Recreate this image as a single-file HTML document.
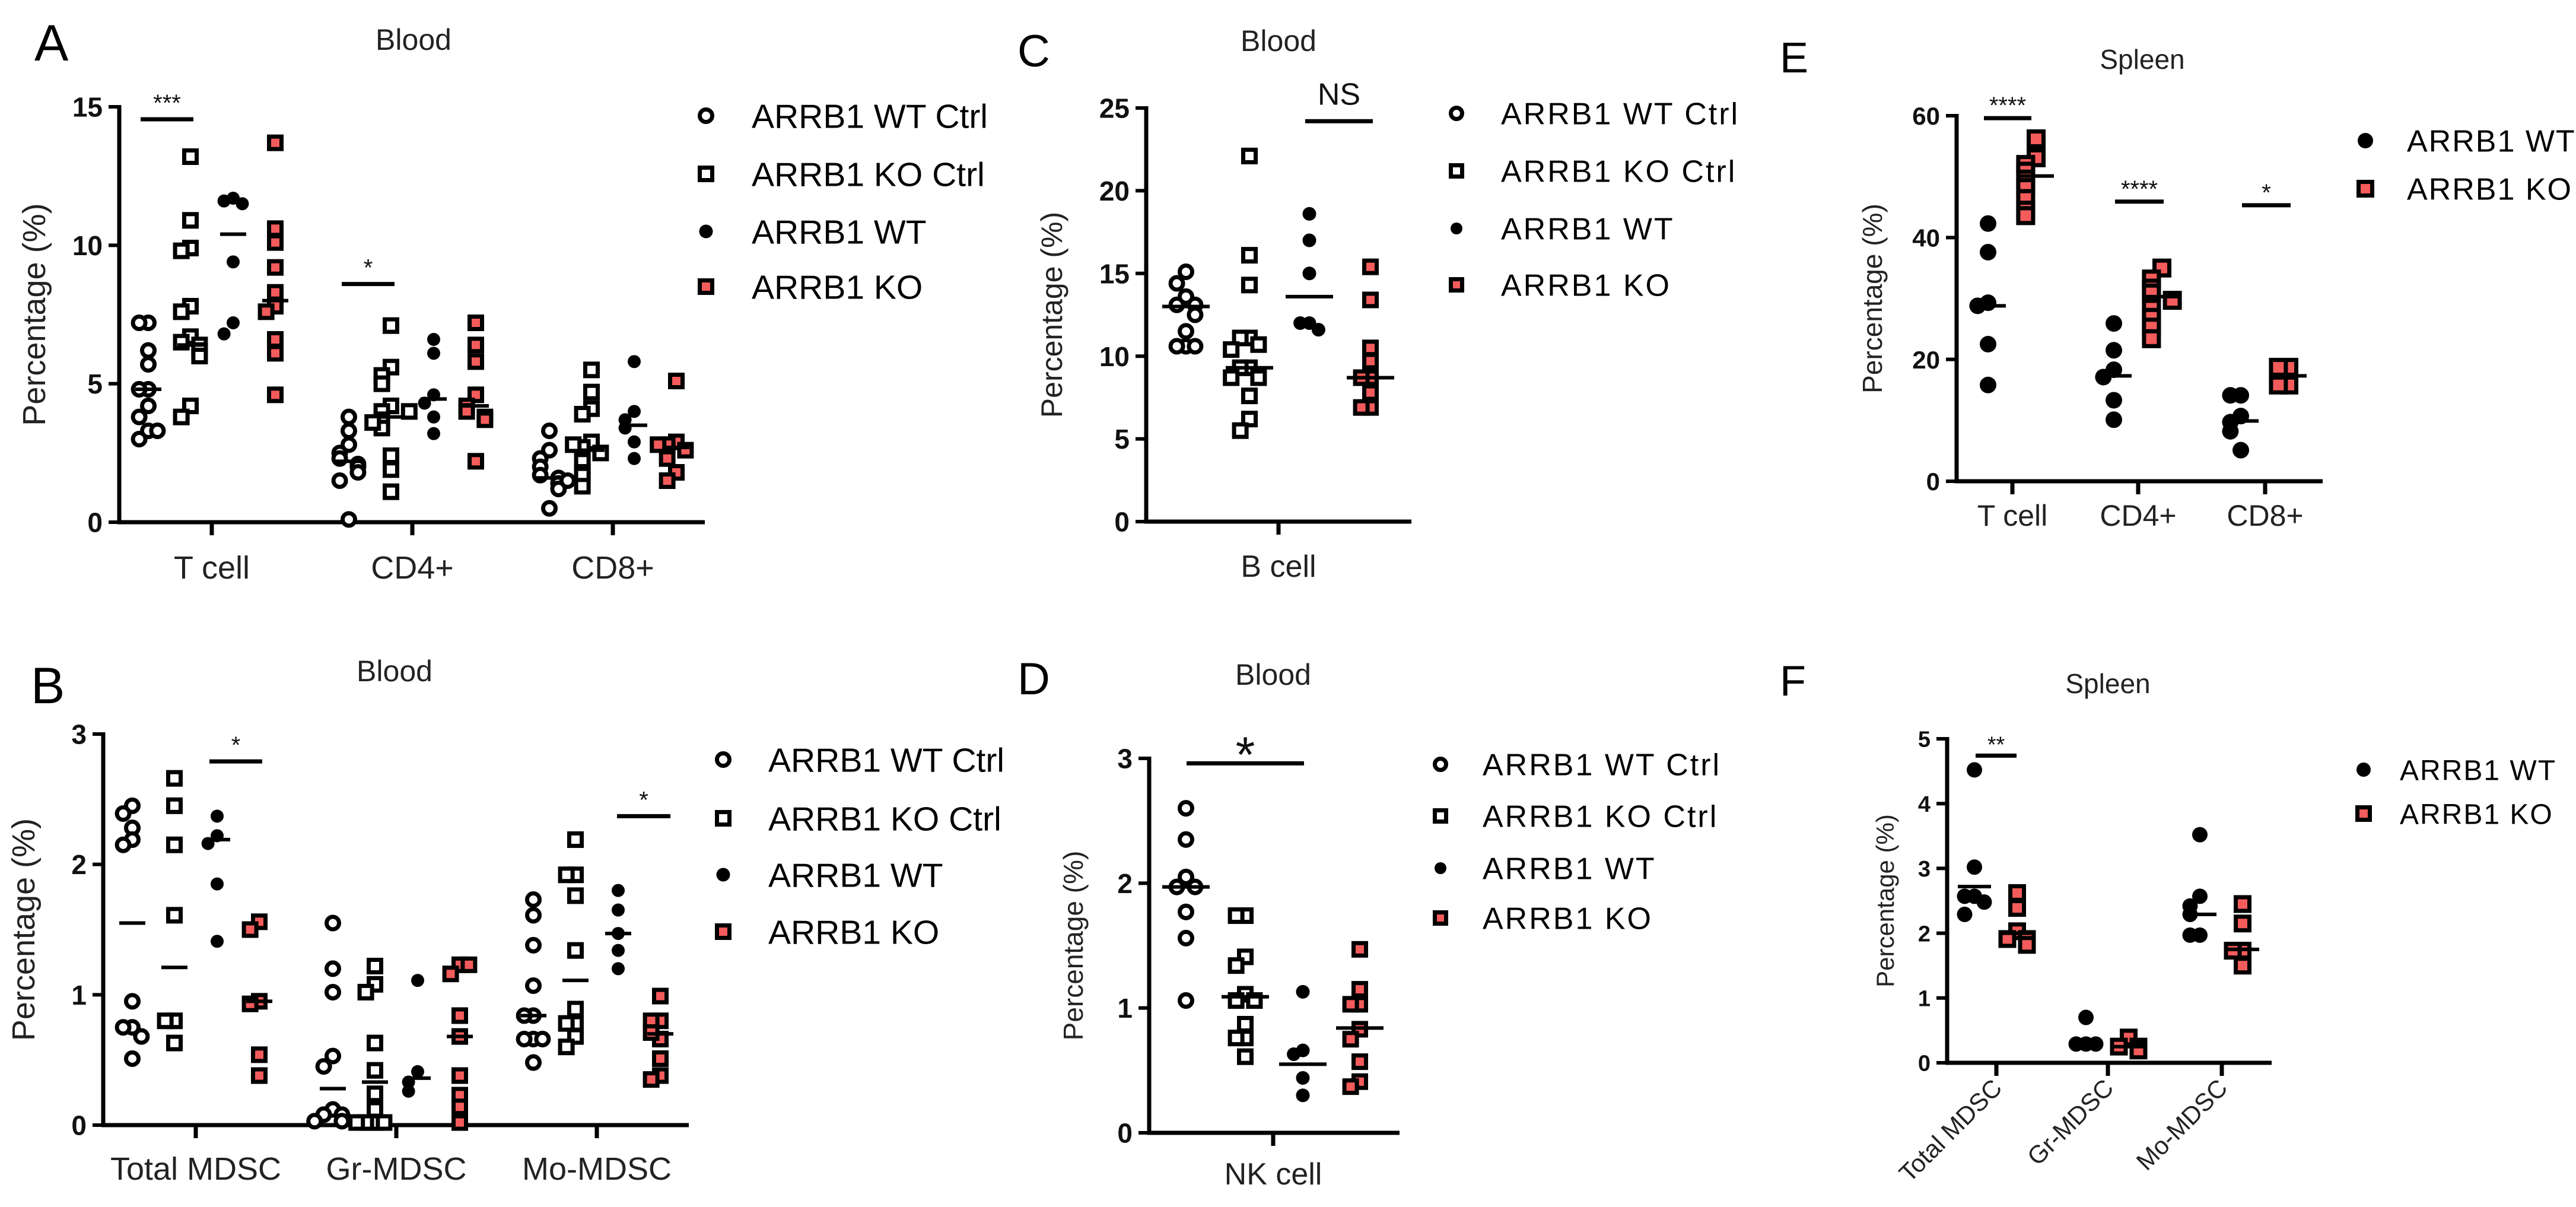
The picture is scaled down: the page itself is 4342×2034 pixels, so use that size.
<!DOCTYPE html>
<html><head><meta charset="utf-8"><style>
html,body{margin:0;padding:0;background:#fff;}
svg{display:block;font-family:"Liberation Sans",Arial,sans-serif;}
</style></head><body>
<svg id="fig" width="4342" height="2034" viewBox="0 0 4342 2034" xmlns="http://www.w3.org/2000/svg">
<rect width="4342" height="2034" fill="#fff"/>
</svg>
<script>
// ===== Panel A data (Blood: T cell / CD4+ / CD8+) =====
const A_categories = ["T cell", "CD4+", "CD8+"];
const A_ticks = [0, 5, 10, 15];
const A_wtCtrl = [[7.2,7.2,6.2,5.7,4.8,4.8,4.2,3.8,3.3,3.0,3.3],[3.8,3.3,2.8,2.5,2.3,2.1,2.0,1.8,1.5,0.1],[3.3,2.6,2.3,2.0,1.7,1.6,1.4,1.2,0.5,1.5]];
const A_koCtrl = [[13.2,10.9,9.9,9.8,7.8,7.6,6.7,6.5,6.4,6.2,6.0,4.2,3.8],[7.1,5.6,5.3,5.0,4.2,4.0,3.7,3.4,3.6,2.4,1.9,1.1,4.0],[5.5,4.7,4.1,3.9,2.9,2.7,2.5,2.2,1.8,1.7,1.3,2.8]];
const A_wt = [[11.7,11.6,11.5,9.4,7.2,6.8],[6.6,6.1,4.6,4.3,3.8,3.2],[5.8,4.0,3.7,3.4,2.9,2.3]];
const A_ko = [[13.7,10.6,10.1,9.2,8.3,7.8,7.6,6.6,6.1,4.6],[7.2,6.4,5.8,4.6,4.2,4.0,3.8,3.7,2.2],[5.1,2.9,2.8,2.6,2.3,1.8,1.5,2.8]];
const A_wtCtrlCenter = [4.8, 2.2, 1.6];
const A_koCtrlCenter = [6.4, 3.8, 2.6];
const A_wtCenter = [10.4, 4.45, 3.5];
const A_koCenter = [8.0, 4.2, 2.7];
const A_sigLabels = ["***", "*"];
const A_sigValues = [14.55, 8.6];

// ===== Panel B data (Blood MDSC) =====
const B_categories = ["Total MDSC", "Gr-MDSC", "Mo-MDSC"];
const B_ticks = [0, 1, 2, 3];
const B_wtCtrl = [[2.45,2.39,2.28,2.19,2.15,0.95,0.75,0.75,0.68,0.51],[1.55,1.2,1.02,0.53,0.45,0.12,0.08,0.08,0.03,0.03],[1.73,1.61,1.38,1.07,0.84,0.84,0.66,0.66,0.48,0.66]];
const B_koCtrl = [[2.66,2.45,2.15,1.61,0.8,0.8,0.63],[1.22,1.08,1.02,0.63,0.42,0.24,0.12,0.02,0.02,0.02,0.02],[2.19,1.92,1.92,1.76,1.34,0.89,0.78,0.78,0.68,0.6]];
const B_wt = [[2.37,2.22,2.16,1.85,1.41],[1.11,0.41,0.33,0.26],[1.8,1.65,1.47,1.34,1.2]];
const B_ko = [[1.56,1.5,0.95,0.93,0.54,0.38],[1.23,1.16,1.23,0.84,0.68,0.38,0.23,0.14,0.02],[0.99,0.8,0.8,0.66,0.71,0.51,0.38,0.35]];
const B_wtCtrlCenter = [1.55, 0.28, 0.84];
const B_koCtrlCenter = [1.21, 0.33, 1.11];
const B_wtCenter = [2.19, 0.36, 1.47];
const B_koCenter = [0.95, 0.68, 0.7];
const B_sigLabels = ["*", "*"];
const B_sigValues = [2.79, 2.37];

// ===== Panel C data (Blood B cell) =====
const C_categories = ["B cell"];
const C_ticks = [0, 5, 10, 15, 20, 25];
const C_wtCtrl = [[15.1,14.4,13.6,13.1,13.1,12.5,11.5,10.6,10.6,10.6]];
const C_koCtrl = [[22.1,16.1,14.3,11.1,11.1,10.7,10.4,9.3,9.3,8.7,8.7,7.6,6.2,5.5]];
const C_wt = [[18.6,17.0,15.0,12.0,12.0,11.6]];
const C_ko = [[15.4,13.4,10.5,9.7,8.7,8.7,7.8,6.9,6.9]];
const C_wtCtrlCenter = [13.0];
const C_koCtrlCenter = [9.3];
const C_wtCenter = [13.6];
const C_koCenter = [8.7];
const C_sigLabels = ["NS"];
const C_sigValues = [24.2];

// ===== Panel D data (Blood NK cell) =====
const D_categories = ["NK cell"];
const D_ticks = [0, 1, 2, 3];
const D_wtCtrl = [[2.6,2.35,2.05,1.97,1.97,1.77,1.56,1.06]];
const D_koCtrl = [[1.74,1.74,1.41,1.34,1.11,1.06,1.06,0.87,0.76,0.76,0.61]];
const D_wt = [[1.13,0.66,0.63,0.44,0.30]];
const D_ko = [[1.47,1.15,1.03,1.03,0.83,0.75,0.57,0.41,0.37]];
const D_wtCtrlCenter = [1.97];
const D_koCtrlCenter = [1.09];
const D_wtCenter = [0.55];
const D_koCenter = [0.84];
const D_sigLabels = ["*"];
const D_sigValues = [2.96];

// ===== Panel E data (Spleen T cells) =====
const E_categories = ["T cell", "CD4+", "CD8+"];
const E_ticks = [0, 20, 40, 60];
const E_wt = [[42.3,37.6,29.3,28.8,22.5,15.8],[25.9,21.5,18.3,17.1,13.3,10.1],[14.1,14.1,10.7,9.7,8.2,5.1]];
const E_ko = [[56.2,53.1,52.0,50.9,49.6,48.2,46.4,44.5,43.6],[35.0,33.2,31.7,30.9,29.7,28.4,26.9,25.3,23.4],[18.7,18.7,15.8,15.8]];
const E_wtCenter = [28.8, 17.3, 9.9];
const E_koCenter = [50.1, 30.3, 17.3];
const E_sigLabels = ["****", "****", "*"];
const E_sigValues = [59.6, 45.9, 45.3];

// ===== Panel F data (Spleen MDSC) =====
const F_categories = ["Total MDSC", "Gr-MDSC", "Mo-MDSC"];
const F_ticks = [0, 1, 2, 3, 4, 5];
const F_wt = [[4.52,3.02,2.57,2.57,2.48,2.29],[0.70,0.29,0.29,0.29],[3.52,2.57,2.42,2.29,1.97,1.97]];
const F_ko = [[2.62,2.39,2.03,1.91,1.91,1.82],[0.39,0.25,0.25,0.19],[2.45,2.15,1.73,1.73,1.50]];
const F_wtCenter = [2.72, 0.30, 2.29];
const F_koCenter = [2.0, 0.25, 1.75];
const F_sigLabels = ["**"];
const F_sigValues = [4.74];

const NS = "http://www.w3.org/2000/svg";
const svg = document.getElementById("fig");
const RED = "#f45b5b";
function mk(tag, attrs, parent){
  const e = document.createElementNS(NS, tag);
  for (const k in attrs) e.setAttribute(k, attrs[k]);
  (parent || svg).appendChild(e);
  return e;
}
function txt(s, attrs, parent){ const e = mk("text", attrs, parent); e.textContent = s; return e; }

function marker(g, shape, cx, cy, sz){
  let e;
  if (shape === "oc") { e = mk("circle", {cx:cx, cy:cy, r:sz/2-3.5, fill:"#fff", stroke:"#000", "stroke-width":7}, g); }
  else if (shape === "os") { e = mk("rect", {x:cx-sz/2+3.5, y:cy-sz/2+3.5, width:sz-7, height:sz-7, fill:"#fff", stroke:"#000", "stroke-width":7}, g); }
  else if (shape === "fc") { e = mk("circle", {cx:cx, cy:cy, r:sz/2, fill:"#000"}, g); }
  else { e = mk("rect", {x:cx-sz/2+3.5, y:cy-sz/2+3.5, width:sz-7, height:sz-7, fill:RED, stroke:"#000", "stroke-width":7}, g); }
  return e;
}

function panel(p){
  const g = mk("g", {});
  
  
  const ys = v => p.yb - v / p.ymax * (p.yb - p.yt);
  const L = txt(p.letter, {x:p.letterX, y:p.letterY, "font-size":p.letterSize, fill:"#000"}, g);
  
  
  const T = txt(p.title, {x:p.titleX, y:p.titleY, "font-size":p.titleSize, "text-anchor":"middle", fill:"#222"}, g);
  
  
  const ya = mk("line", {x1:p.ax, y1:p.yt-3, x2:p.ax, y2:p.yb+3, stroke:"#000", "stroke-width":7}, g);
  
  
  const xa = mk("line", {x1:p.ax-3, y1:p.yb, x2:p.axEnd, y2:p.yb, stroke:"#000", "stroke-width":7}, g);
  
  
  p.ticks.forEach(t => {
    const y = ys(t);
    const tl = mk("line", {x1:p.ax-18, y1:y, x2:p.ax, y2:y, stroke:"#000", "stroke-width":6}, g);
    
    
    const lb = txt(String(t), {x:p.ax-28, y:y+p.tickSize*0.36, "font-size":p.tickSize, "font-weight":"bold", "text-anchor":"end", fill:"#111"}, g);
    
    
  });
  const ym = (p.yt + p.yb) / 2;
  const yt = txt("Percentage (%)", {x:p.ytX, y:ym, "font-size":p.ytSize, "text-anchor":"middle", fill:"#222", transform:"rotate(-90 "+p.ytX+" "+ym+")"}, g);
  
  
  p.cats.forEach((c, i) => {
    const cx = p.catX[i];
    const tk = mk("line", {x1:cx, y1:p.yb, x2:cx, y2:p.yb+22, stroke:"#000", "stroke-width":7}, g);
    
    
    let lb;
    if (p.rotate) {
      const lx = cx + 12, ly = p.yb + 45;
      lb = txt(c, {x:lx, y:ly, "font-size":p.catSize, "text-anchor":"end", fill:"#222", transform:"rotate(-45 "+lx+" "+ly+")"}, g);
    } else {
      lb = txt(c, {x:cx, y:p.catY, "font-size":p.catSize, "text-anchor":"middle", fill:"#222"}, g);
    }
    
    
    p.series.forEach(s => {
      const gx = cx + s.off;
      const vals = s.vals[i];
      const placed = [];
      vals.forEach((v, j) => {
        const y = ys(v);
        const near = placed.filter(q => Math.abs(q - y) < p.msz * 0.7).length;
        placed.push(y);
        const dx = near === 0 ? 0 : (near % 2 ? -1 : 1) * Math.ceil(near / 2) * p.msz * 0.55;
        const m = marker(g, s.shape, gx + dx, y, s.shape === "fc" ? p.dot : p.msz);
        
        
      });
      const cy = ys(s.center[i]);
      const ml = mk("line", {x1:gx-p.cw, y1:cy, x2:gx+p.cw, y2:cy, stroke:"#000", "stroke-width":6}, g);
      
      
    });
  });
  p.sig.forEach((sg, k) => {
    const y = ys(p.sigVals[k]);
    const b = mk("line", {x1:sg.x1, y1:y, x2:sg.x2, y2:y, stroke:"#000", "stroke-width":7}, g);
    
    
    const st = txt(p.sigLabels[k], {x:(sg.x1+sg.x2)/2, y:y-(sg.gap||14), "font-size":sg.size||40, "text-anchor":"middle", fill:"#111"}, g);
    
    
  });
  p.legend.forEach((le, k) => {
    const y = p.legY[k];
    const m = marker(g, le.shape, p.legX, y, le.shape === "fc" ? p.legDot : p.legSz);
    
    
    const t = txt(le.label, {x:p.legTX, y:y + p.legSize*0.36, "font-size":p.legSize, fill:"#000", "letter-spacing":p.legLS||0}, g);
    
    
  });
}

const LEG4 = [{shape:"oc",label:"ARRB1 WT Ctrl"},{shape:"os",label:"ARRB1 KO Ctrl"},{shape:"fc",label:"ARRB1 WT"},{shape:"rs",label:"ARRB1 KO"}];
const LEG2 = [{shape:"fc",label:"ARRB1 WT"},{shape:"rs",label:"ARRB1 KO"}];

panel({name:"panel-a", letter:"A", letterX:58, letterY:102, letterSize:86, title:"Blood", titleX:697, titleY:84, titleSize:50,
  ax:201, axEnd:1188, yt:180, yb:880, ymax:15, ticks:A_ticks, tickSize:46, ytX:76, ytSize:54,
  cats:A_categories, catX:[357,695,1033], catY:975, catSize:54, msz:28, dot:22, cw:22,
  series:[{key:"wt-ctrl",shape:"oc",off:-107,vals:A_wtCtrl,center:A_wtCtrlCenter},{key:"ko-ctrl",shape:"os",off:-36,vals:A_koCtrl,center:A_koCtrlCenter},{key:"wt",shape:"fc",off:36,vals:A_wt,center:A_wtCenter},{key:"ko",shape:"rs",off:107,vals:A_ko,center:A_koCenter}],
  sig:[{x1:237,x2:326},{x1:576,x2:665}], sigVals:A_sigValues, sigLabels:A_sigLabels,
  legend:LEG4, legX:1190, legY:[195,293,390,483], legTX:1267, legSize:57, legSz:28, legDot:23});

panel({name:"panel-b", letter:"B", letterX:52, letterY:1185, letterSize:86, title:"Blood", titleX:665, titleY:1148, titleSize:50,
  ax:174, axEnd:1161, yt:1237, yb:1896, ymax:3, ticks:B_ticks, tickSize:46, ytX:58, ytSize:54,
  cats:B_categories, catX:[330,668,1006], catY:1988, catSize:54, msz:28, dot:22, cw:22,
  series:[{key:"wt-ctrl",shape:"oc",off:-107,vals:B_wtCtrl,center:B_wtCtrlCenter},{key:"ko-ctrl",shape:"os",off:-36,vals:B_koCtrl,center:B_koCtrlCenter},{key:"wt",shape:"fc",off:36,vals:B_wt,center:B_wtCenter},{key:"ko",shape:"rs",off:107,vals:B_ko,center:B_koCenter}],
  sig:[{x1:353,x2:442},{x1:1040,x2:1130}], sigVals:B_sigValues, sigLabels:B_sigLabels,
  legend:LEG4, legX:1219, legY:[1280,1379,1474,1570], legTX:1295, legSize:57, legSz:28, legDot:23});

panel({name:"panel-c", letter:"C", letterX:1715, letterY:112, letterSize:76, title:"Blood", titleX:2155, titleY:86, titleSize:50,
  ax:1932, axEnd:2379, yt:182, yb:879, ymax:25, ticks:C_ticks, tickSize:46, ytX:1790, ytSize:50,
  cats:C_categories, catX:[2155], catY:972, catSize:52, msz:28, dot:23, cw:40,
  series:[{key:"wt-ctrl",shape:"oc",off:-156,vals:C_wtCtrl,center:C_wtCtrlCenter},{key:"ko-ctrl",shape:"os",off:-49,vals:C_koCtrl,center:C_koCtrlCenter},{key:"wt",shape:"fc",off:52,vals:C_wt,center:C_wtCenter},{key:"ko",shape:"rs",off:155,vals:C_ko,center:C_koCenter}],
  sig:[{x1:2200,x2:2314,gap:28,size:52}], sigVals:C_sigValues, sigLabels:C_sigLabels,
  legend:LEG4, legX:2455, legY:[191,288,385,480], legTX:2530, legSize:52, legLS:3, legSz:26, legDot:20});

panel({name:"panel-d", letter:"D", letterX:1715, letterY:1170, letterSize:76, title:"Blood", titleX:2146, titleY:1154, titleSize:50,
  ax:1937, axEnd:2359, yt:1278, yb:1909, ymax:3, ticks:D_ticks, tickSize:46, ytX:1825, ytSize:46,
  cats:D_categories, catX:[2146], catY:1996, catSize:52, msz:28, dot:23, cw:40,
  series:[{key:"wt-ctrl",shape:"oc",off:-147,vals:D_wtCtrl,center:D_wtCtrlCenter},{key:"ko-ctrl",shape:"os",off:-47,vals:D_koCtrl,center:D_koCtrlCenter},{key:"wt",shape:"fc",off:50,vals:D_wt,center:D_wtCenter},{key:"ko",shape:"rs",off:146,vals:D_ko,center:D_koCenter}],
  sig:[{x1:2000,x2:2198,gap:-14,size:84}], sigVals:D_sigValues, sigLabels:D_sigLabels,
  legend:LEG4, legX:2428, legY:[1288,1375,1463,1547], legTX:2499, legSize:52, legLS:3, legSz:26, legDot:20});

panel({name:"panel-e", letter:"E", letterX:3000, letterY:122, letterSize:72, title:"Spleen", titleX:3611, titleY:116, titleSize:46,
  ax:3298, axEnd:3915, yt:195, yb:811, ymax:60, ticks:E_ticks, tickSize:42, ytX:3172, ytSize:46,
  cats:E_categories, catX:[3392,3604,3818], catY:886, catSize:50, msz:32, dot:28, cw:30,
  series:[{key:"wt",shape:"fc",off:-41,vals:E_wt,center:E_wtCenter},{key:"ko",shape:"rs",off:40,vals:E_ko,center:E_koCenter}],
  sig:[{x1:3344,x2:3424,gap:8,size:40},{x1:3565,x2:3647,gap:8,size:40},{x1:3779,x2:3861,gap:8,size:40}], sigVals:E_sigValues, sigLabels:E_sigLabels,
  legend:LEG2, legX:3987, legY:[237,318], legTX:4057, legSize:52, legLS:2, legSz:30, legDot:26});

panel({name:"panel-f", letter:"F", letterX:3000, letterY:1172, letterSize:72, title:"Spleen", titleX:3553, titleY:1168, titleSize:46,
  ax:3282, axEnd:3829, yt:1245, yb:1791, ymax:5, ticks:F_ticks, tickSize:38, ytX:3192, ytSize:42,
  cats:F_categories, catX:[3365,3553,3745], rotate:true, catSize:42, msz:30, dot:26, cw:28,
  series:[{key:"wt",shape:"fc",off:-37,vals:F_wt,center:F_wtCenter},{key:"ko",shape:"rs",off:35,vals:F_ko,center:F_koCenter}],
  sig:[{x1:3330,x2:3399,gap:6,size:38}], sigVals:F_sigValues, sigLabels:F_sigLabels,
  legend:LEG2, legX:3984, legY:[1297,1371], legTX:4045, legSize:48, legLS:2, legSz:28, legDot:24});
</script>
</body></html>
